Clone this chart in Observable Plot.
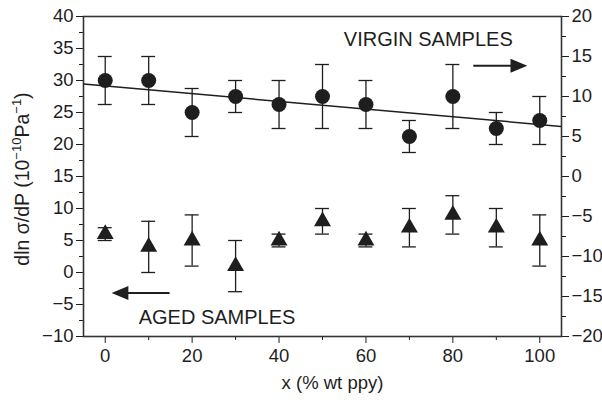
<!DOCTYPE html>
<html><head><meta charset="utf-8">
<script src="https://cdn.jsdelivr.net/npm/d3@7"></script>
<script src="https://cdn.jsdelivr.net/npm/@observablehq/plot@0.6"></script>
<style>
body{margin:0;background:#fff;}
#chart svg{font-family:"Liberation Sans",Arial,Helvetica,sans-serif;}
</style>
</head><body><div id="chart"></div>
<script>
// x: % wt ppy
const xs = [0, 10, 20, 30, 40, 50, 60, 70, 80, 90, 100];
// Virgin samples (right axis), circles
const virgin = [12, 12, 8, 10, 9, 10, 9, 5, 10, 6, 7];
const virginErr = [3, 3, 3, 2, 3, 4, 3, 2, 4, 2, 3];
// Aged samples (left axis), triangles
const aged = [6, 4, 5, 1, 5, 8, 5, 7, 9, 7, 5];
const agedErr = [1, 4, 4, 4, 1, 2, 1, 3, 3, 3, 4];
// Axis ticks
const xTicks = [0, 20, 40, 60, 80, 100];
const xMinor = [10, 30, 50, 70, 90];
const leftTicks = [-10, -5, 0, 5, 10, 15, 20, 25, 30, 35, 40];
const rightTicks = [-20, -15, -10, -5, 0, 5, 10, 15, 20];
const xDomain = [-5, 105];
const leftDomain = [-10, 40];
const rightDomain = [-20, 20];
// Text annotations
const labels = [
  {text: "VIRGIN SAMPLES", x: 54.9, y: 35.4},
  {text: "AGED SAMPLES", x: 7.7, y: -8.0}
];
const arrows = [
  {x1: 84.7, x2: 94, y: 32.3, head: 95.2, rot: 0},
  {x1: 14.8, x2: 4.6, y: -3.2, head: 3.4, rot: 180}
];

// map right-axis values into the left-axis coordinate
const k = (leftDomain[1] - leftDomain[0]) / (rightDomain[1] - rightDomain[0]);
const toLeft = r => leftDomain[0] + (r - rightDomain[0]) * k;
const fromLeft = v => (v - leftDomain[0]) / k + rightDomain[0];

const vData = xs.map((x, i) => ({x, y: toLeft(virgin[i]), lo: toLeft(virgin[i] - virginErr[i]), hi: toLeft(virgin[i] + virginErr[i])}));
const aData = xs.map((x, i) => ({x, y: aged[i], lo: aged[i] - agedErr[i], hi: aged[i] + agedErr[i]}));

// least-squares fit of virgin data
const mx = d3.mean(xs), my = d3.mean(virgin);
const slope = d3.sum(xs, (x, i) => (x - mx) * (virgin[i] - my)) / d3.sum(xs, x => (x - mx) ** 2);
const fit = xDomain.map(x => ({x, y: toLeft(my + slope * (x - mx))}));

const minorLeft = d3.range(leftDomain[0] + 2.5, leftDomain[1], 5);
const minorRight = d3.range(rightDomain[0] + 2.5, rightDomain[1], 5).map(toLeft);

const ink = "#1e1e1e";
const capHalf = 1.6;
const fmt = d3.format("d");

const arrowHead = {
  draw(ctx, size) {
    const r = Math.sqrt(size / Math.PI);
    ctx.moveTo(r * 1.2, 0);
    ctx.lineTo(-r * 1.2, -r);
    ctx.lineTo(-r * 1.2, r);
    ctx.closePath();
  }
};

const errMarks = (data) => [
  Plot.ruleX(data, {x: "x", y1: "lo", y2: "hi", stroke: ink, strokeWidth: 1.3}),
  Plot.ruleY(data, {y: "hi", x1: d => d.x - capHalf, x2: d => d.x + capHalf, stroke: ink, strokeWidth: 1.3}),
  Plot.ruleY(data, {y: "lo", x1: d => d.x - capHalf, x2: d => d.x + capHalf, stroke: ink, strokeWidth: 1.3})
];

const chart = Plot.plot({
  width: 602,
  height: 402,
  marginLeft: 83,
  marginRight: 41,
  marginTop: 16,
  marginBottom: 66,
  style: {fontFamily: "'Liberation Sans', Arial, Helvetica, sans-serif", color: ink, background: "#fff"},
  x: {domain: xDomain},
  y: {domain: leftDomain},
  marks: [
    Plot.axisX({ticks: xTicks, tickSize: 7, tickPadding: 5, fontSize: 18.5, label: "x (% wt ppy)", labelAnchor: "center", labelArrow: "none", labelOffset: 52, stroke: ink, color: ink}),
    Plot.axisX({ticks: xMinor, tickSize: 4, tickFormat: () => "", label: null, stroke: ink}),
    Plot.axisY({ticks: leftTicks, tickSize: 7, tickPadding: 3, fontSize: 18.5, tickFormat: fmt, label: null, stroke: ink, color: ink}),
    Plot.axisY({ticks: minorLeft, tickSize: 4, tickFormat: () => "", label: null, stroke: ink}),
    Plot.axisY({anchor: "right", ticks: rightTicks.map(toLeft), tickFormat: v => fmt(Math.round(fromLeft(v))), tickSize: 7, tickPadding: 3, fontSize: 18.5, label: null, stroke: ink, color: ink}),
    Plot.axisY({anchor: "right", ticks: minorRight, tickSize: 4, tickFormat: () => "", label: null, stroke: ink}),
    Plot.frame({stroke: "#333", strokeWidth: 1.6}),
    Plot.line(fit, {x: "x", y: "y", stroke: ink, strokeWidth: 1.5, clip: true}),
    ...errMarks(vData),
    ...errMarks(aData),
    Plot.dot(vData, {x: "x", y: "y", r: 7.5, fill: ink, stroke: "none"}),
    Plot.dot(aData, {x: "x", y: "y", r: 6.3, symbol: "triangle", fill: ink, stroke: "none"}),
    Plot.text(labels, {x: "x", y: "y", text: "text", textAnchor: "start", lineAnchor: "bottom", fontSize: 20, fill: ink}),
    Plot.link(arrows, {x1: "x1", x2: "x2", y1: "y", y2: "y", stroke: ink, strokeWidth: 2}),
    Plot.dot(arrows, {x: "head", y: "y", symbol: arrowHead, r: 7, rotate: "rot", fill: ink, stroke: "none"})
  ]
});

// y-axis title with superscripts
const svg = d3.select(chart);
const t = svg.append("text")
  .attr("transform", "translate(29,179) rotate(-90)")
  .attr("text-anchor", "middle")
  .attr("font-size", 19.5)
  .attr("fill", ink);
t.append("tspan").text("dln σ/dP (10");
t.append("tspan").attr("font-size", 13).attr("dy", -8).text("−10");
t.append("tspan").attr("dy", 8).text("Pa");
t.append("tspan").attr("font-size", 13).attr("dy", -8).text("−1");
t.append("tspan").attr("dy", 8).text(")");

// shift x-axis title slightly right as in the original
svg.selectAll("g[aria-label='x-axis label']").each(function() {
  const tr = this.getAttribute("transform") || "";
  this.setAttribute("transform", (tr + " translate(10,0)").trim());
});

document.getElementById("chart").append(chart);
</script>
</body></html>
